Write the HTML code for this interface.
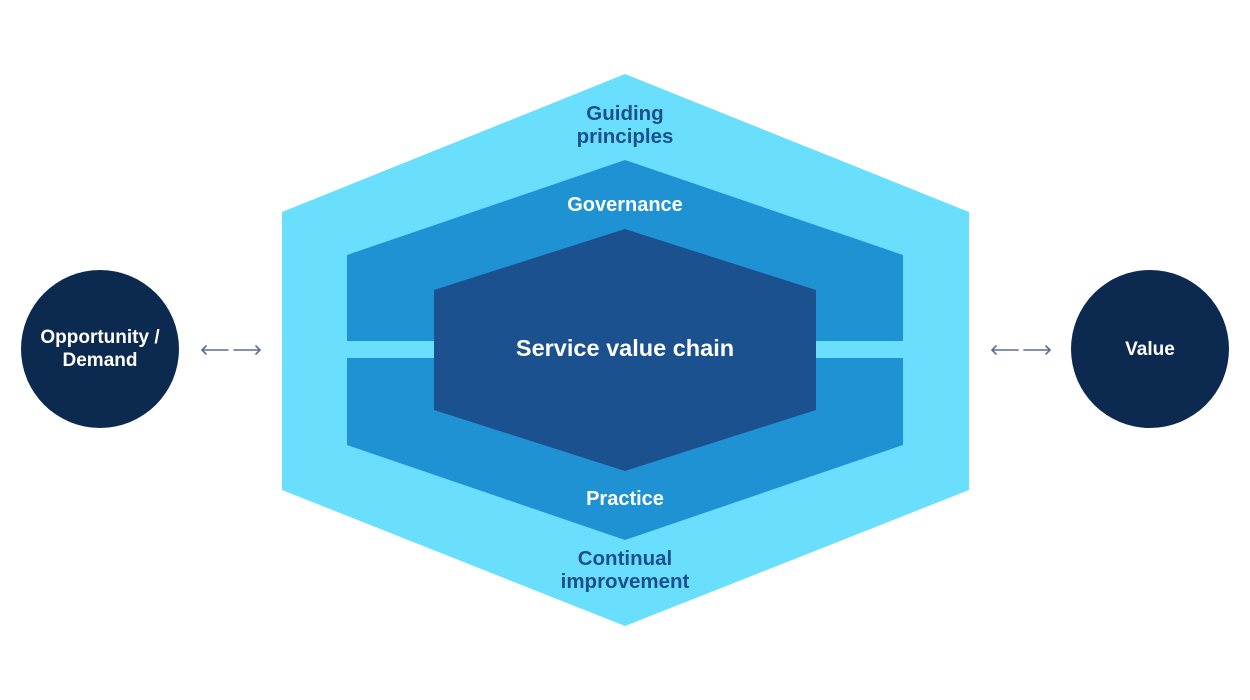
<!DOCTYPE html>
<html><head><style>
html,body{margin:0;padding:0;background:#fff;}
svg{display:block;}
text{font-family:"Liberation Sans",sans-serif;font-weight:bold;}
</style></head><body>
<svg width="1250" height="700" viewBox="0 0 1250 700">
<rect width="1250" height="700" fill="#fff"/>
<polygon points="625,74 969,212 969,490 625,626 282,490 282,212" fill="#69dffd"/>
<polygon points="625,160 903,255 903,341 347,341 347,255" fill="#1e92d3"/>
<polygon points="347,358 903,358 903,445 625,540 347,445" fill="#1e92d3"/>
<polygon points="625,229 816,290 816,410 625,471 434,410 434,290" fill="#1c5190"/>
<circle cx="100" cy="349" r="79" fill="#0c2a4f"/>
<circle cx="1150" cy="349" r="79" fill="#0c2a4f"/>
<g stroke="#5b6e8a" stroke-width="1.6" fill="none" stroke-linecap="round">
<path d="M202,350 H228 M206,346 L202,350 L206,354"/>
<path d="M234,350 H260 M256,346 L260,350 L256,354"/>
<path d="M992,350 H1018 M996,346 L992,350 L996,354"/>
<path d="M1024,350 H1050 M1046,346 L1050,350 L1046,354"/>
</g>
<g text-anchor="middle">
<text x="625" y="120" font-size="20.5" fill="#1c4f8f">Guiding</text>
<text x="625" y="143" font-size="20.5" fill="#1c4f8f">principles</text>
<text x="625" y="211" font-size="20" fill="#fff">Governance</text>
<text x="625" y="356" font-size="23.5" fill="#fff">Service value chain</text>
<text x="625" y="505" font-size="20" fill="#fff">Practice</text>
<text x="625" y="565" font-size="20.5" fill="#1c4f8f">Continual</text>
<text x="625" y="588" font-size="20.5" fill="#1c4f8f">improvement</text>
<text x="100" y="343" font-size="19" fill="#fff">Opportunity /</text>
<text x="100" y="366" font-size="19" fill="#fff">Demand</text>
<text x="1150" y="355" font-size="19" fill="#fff">Value</text>
</g>
</svg>
</body></html>
